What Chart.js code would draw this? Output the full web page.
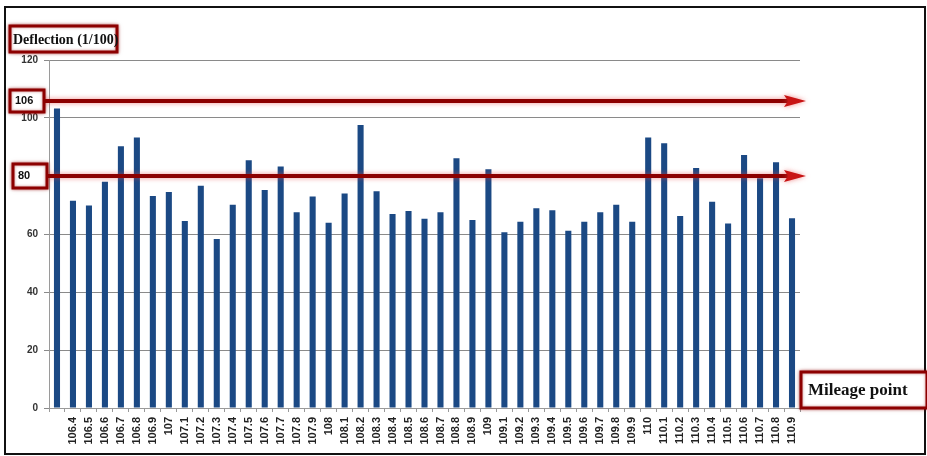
<!DOCTYPE html>
<html>
<head>
<meta charset="utf-8">
<script src="https://cdn.jsdelivr.net/npm/chart.js@4"></script>
<style>
    html, body { margin: 0; padding: 0; background: #fff; }
    #wrap { width: 927px; height: 456px; }
</style>
</head>
<body>
<div id="wrap"><canvas id="deflectionChart" width="927" height="456"></canvas></div>
<script>
//mileage points (first bar has no label)
const mileage = [
    '', '106.4', '106.5', '106.6', '106.7', '106.8', '106.9', '107', '107.1', '107.2',
    '107.3', '107.4', '107.5', '107.6', '107.7', '107.8', '107.9', '108', '108.1', '108.2',
    '108.3', '108.4', '108.5', '108.6', '108.7', '108.8', '108.9', '109', '109.1', '109.2',
    '109.3', '109.4', '109.5', '109.6', '109.7', '109.8', '109.9', '110', '110.1', '110.2',
    '110.3', '110.4', '110.5', '110.6', '110.7', '110.8', '110.9'
]

//deflection at each point, 1/100 mm
const deflection = [
    103.3, 71.5, 69.8, 78, 90.3, 93.3, 73.1, 74.5, 64.5, 76.6,
    58.3, 70.1, 85.4, 75.2, 83.3, 67.5, 72.9, 63.9, 74, 97.6,
    74.7, 66.9, 67.9, 65.3, 67.5, 86.1, 64.8, 82.3, 60.6, 64.2,
    68.9, 68.2, 61.1, 64.2, 67.5, 70.1, 64.2, 93.3, 91.3, 66.2,
    82.8, 71.1, 63.6, 87.2, 79.2, 84.7, 65.4
]

//reference levels drawn as arrows
const limits = [106, 80]
const limitBoxes = [
    { text: '106', x: 10, w: 34, h: 22 },
    { text: '80', x: 13, w: 34, h: 24 },
]

const yTicks = { min: 0, max: 120, step: 20 }

const darkRed = 'rgb(140, 0, 0)'

function redBox(ctx, x, y, w, h) {
    ctx.save();
    ctx.shadowColor = 'rgba(150, 0, 0, 0.5)';
    ctx.shadowBlur = 5;
    ctx.fillStyle = '#fff';
    ctx.fillRect(x, y, w, h);
    ctx.shadowBlur = 3;
    ctx.strokeStyle = darkRed;
    ctx.lineWidth = 3;
    ctx.strokeRect(x, y, w, h);
    ctx.restore();
}

/*
 * Frame, arrow lines and labelled boxes
 */
const annotations = {
    id: 'annotations',
    beforeDraw(chart) {
        const ctx = chart.ctx;
        ctx.save();
        ctx.strokeStyle = '#111';
        ctx.lineWidth = 2;
        ctx.strokeRect(5, 7, 920, 447);
        ctx.restore();
    },
    afterDatasetsDraw(chart) {
        const ctx = chart.ctx;
        const y = chart.scales.y;
        const area = chart.chartArea;

        limits.forEach((v, i) => {
            const py = Math.round(y.getPixelForValue(v));
            const b = limitBoxes[i];
            const tip = area.right + 6;

            ctx.save();
            ctx.shadowColor = 'rgba(230, 60, 60, 0.6)';
            ctx.shadowBlur = 5;
            ctx.strokeStyle = darkRed;
            ctx.lineWidth = 4;
            ctx.beginPath();
            ctx.moveTo(b.x + b.w, py);
            ctx.lineTo(tip - 18, py);
            ctx.stroke();

            ctx.fillStyle = 'rgb(200, 20, 20)';
            ctx.beginPath();
            ctx.moveTo(tip - 22, py - 6);
            ctx.lineTo(tip, py);
            ctx.lineTo(tip - 22, py + 6);
            ctx.lineTo(tip - 18, py);
            ctx.closePath();
            ctx.fill();
            ctx.restore();

            redBox(ctx, b.x, py - b.h / 2, b.w, b.h);
            ctx.save();
            ctx.fillStyle = '#111';
            ctx.font = 'bold 11px "Liberation Sans"';
            ctx.textBaseline = 'middle';
            ctx.fillText(b.text, b.x + 5, py);
            ctx.restore();
        });
    },
    afterDraw(chart) {
        const ctx = chart.ctx;
        const area = chart.chartArea;

        //y axis title
        redBox(ctx, 10, 26, 107, 26);
        ctx.save();
        ctx.fillStyle = '#111';
        ctx.font = 'bold 14px "Liberation Serif"';
        ctx.textBaseline = 'middle';
        ctx.fillText('Deflection (1/100)', 13, 40);
        ctx.restore();

        //x axis title
        redBox(ctx, area.right + 1, 372, 126, 36);
        ctx.save();
        ctx.fillStyle = '#111';
        ctx.font = 'bold 17px "Liberation Serif"';
        ctx.textBaseline = 'middle';
        ctx.fillText('Mileage point', area.right + 8, 391);
        ctx.restore();
    }
}

const ctx_deflection = document.getElementById('deflectionChart').getContext('2d');
const deflectionChart = new Chart(ctx_deflection, {
    type: 'bar',
    data: {
        labels: mileage,
        datasets: [{
            data: deflection,
            backgroundColor: 'rgb(27, 73, 132)',
            borderWidth: 0,
            categoryPercentage: 1,
            barPercentage: 0.38,
        }]
    },
    options: {
        responsive: false,
        animation: false,
        devicePixelRatio: 1,
        layout: {
            padding: { left: 0, top: 60, right: 127, bottom: 0 }
        },
        plugins: {
            legend: { display: false },
            tooltip: { enabled: false },
        },
        scales: {
            x: {
                afterFit(scale) { scale.height = 48; },
                ticks: {
                    autoSkip: false,
                    maxRotation: 90,
                    minRotation: 90,
                    padding: 5,
                    color: '#222',
                    font: { size: 11, weight: 'bold', family: '"Liberation Sans"' },
                },
                grid: {
                    drawOnChartArea: false,
                    tickLength: 4,
                    color: '#9a9a9a',
                },
                border: { color: '#9a9a9a' },
            },
            y: {
                min: yTicks.min,
                max: yTicks.max,
                afterFit(scale) { scale.width = 49; },
                ticks: {
                    stepSize: yTicks.step,
                    padding: 6,
                    color: '#333',
                    font: { size: 10, weight: 'bold', family: '"Liberation Sans"' },
                },
                grid: {
                    color: '#8a8a8a',
                    tickLength: 5,
                },
                border: { color: '#9a9a9a' },
            },
        },
    },
    plugins: [annotations],
})
</script>
</body>
</html>
